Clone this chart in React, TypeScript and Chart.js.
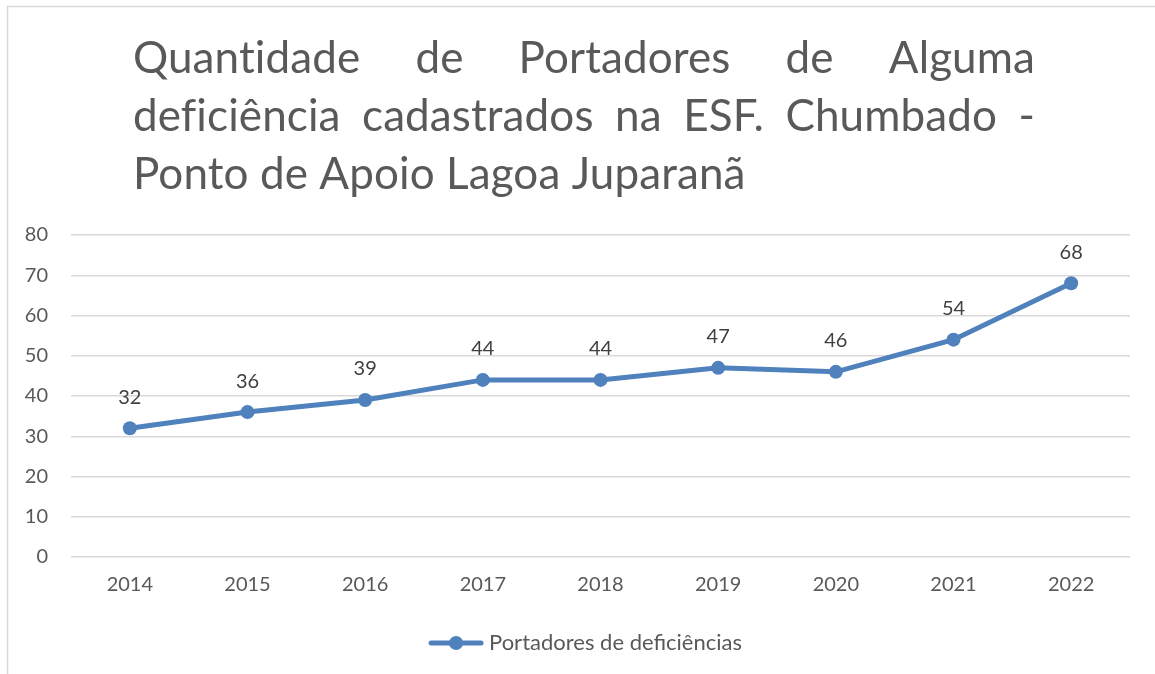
import React, { useEffect, useRef } from "react";
import { Chart, registerables } from "chart.js";

Chart.register(...registerables);

const categories = ["2014", "2015", "2016", "2017", "2018", "2019", "2020", "2021", "2022"];
const portadores = [32, 36, 39, 44, 44, 47, 46, 54, 68];
const seriesName = "Portadores de deficiências";
const titleLines = [
  "Quantidade de Portadores de Alguma",
  "deficiência cadastrados na ESF. Chumbado -",
  "Ponto de Apoio Lagoa Juparanã",
];

const BLUE = "#4F81BD";
const FONT = "Lato, 'Open Sans', sans-serif";

const framePlugin = {
  id: "frame",
  beforeDraw(chart: any) {
    const ctx = chart.ctx;
    ctx.save();
    ctx.fillStyle = "#ffffff";
    ctx.fillRect(0, 0, chart.width, chart.height);
    ctx.strokeStyle = "#d9d9d9";
    ctx.lineWidth = 1.5;
    ctx.strokeRect(7.5, 6.5, chart.width + 20, chart.height + 20);
    ctx.restore();
  },
};

const legendShiftPlugin = {
  id: "legendShift",
  afterLayout(chart: any) {
    const lg = chart.legend;
    if (lg) {
      lg.left += 23;
      lg.right += 23;
    }
  },
};

const titlePlugin = {
  id: "justTitle",
  afterDraw(chart: any) {
    const ctx = chart.ctx;
    const left = 133;
    const right = 1035;
    const baselines = [73, 131, 189];
    ctx.save();
    ctx.font = `44px ${FONT}`;
    try {
      (ctx as any).letterSpacing = "0.1px";
    } catch (e) {}
    ctx.fillStyle = "#595959";
    ctx.textBaseline = "alphabetic";
    ctx.textAlign = "left";
    titleLines.forEach((line, i) => {
      const words = line.split(" ");
      if (i === titleLines.length - 1) {
        ctx.fillText(line, left, baselines[i]);
        return;
      }
      const widths = words.map((w) => ctx.measureText(w).width);
      const total = widths.reduce((a, b) => a + b, 0);
      const gap = (right - left - total) / (words.length - 1);
      let x = left;
      words.forEach((w, j) => {
        ctx.fillText(w, x, baselines[i]);
        x += widths[j] + gap;
      });
    });
    ctx.restore();
  },
};

const labelPlugin = {
  id: "valueLabels",
  afterDatasetsDraw(chart: any) {
    const ctx = chart.ctx;
    const meta = chart.getDatasetMeta(0);
    const data = chart.data.datasets[0].data;
    ctx.save();
    ctx.font = `20px ${FONT}`;
    ctx.fillStyle = "#404040";
    ctx.textAlign = "center";
    ctx.textBaseline = "middle";
    meta.data.forEach((pt: any, i: number) => {
      ctx.fillText(String(data[i]), pt.x, pt.y - 31);
    });
    ctx.restore();
  },
};

function makeLegendIcon(): HTMLCanvasElement {
  const c = document.createElement("canvas");
  c.width = 56;
  c.height = 16;
  const g = c.getContext("2d")!;
  g.strokeStyle = BLUE;
  g.lineWidth = 5;
  g.lineCap = "round";
  g.beginPath();
  g.moveTo(3, 8);
  g.lineTo(53, 8);
  g.stroke();
  g.fillStyle = BLUE;
  g.beginPath();
  g.arc(28, 8, 7, 0, Math.PI * 2);
  g.fill();
  return c;
}

export default function App() {
  const ref = useRef<HTMLCanvasElement>(null);

  useEffect(() => {
    document.body.style.margin = "0";
    const icon = makeLegendIcon();
    const chart = new Chart(ref.current!, {
      type: "line",
      data: {
        labels: categories,
        datasets: [
          {
            label: seriesName,
            data: portadores,
            borderColor: BLUE,
            backgroundColor: BLUE,
            borderWidth: 5,
            pointRadius: 7,
            pointBackgroundColor: BLUE,
            pointBorderColor: BLUE,
            pointBorderWidth: 0,
            tension: 0,
            fill: false,
          },
        ],
      },
      options: {
        responsive: false,
        animation: false,
        layout: { padding: { top: 235, right: 25, bottom: 10, left: 0 } },
        plugins: {
          title: { display: false },
          tooltip: { enabled: false },
          legend: {
            display: true,
            position: "bottom",
            labels: {
              usePointStyle: true,
              pointStyleWidth: 44,
              font: { family: FONT, size: 22 },
              color: "#595959",
              padding: 10,
              generateLabels: () => [
                {
                  text: seriesName,
                  pointStyle: icon as any,
                  fillStyle: BLUE,
                  strokeStyle: BLUE,
                  lineWidth: 0,
                  hidden: false,
                  datasetIndex: 0,
                  fontColor: "#595959",
                } as any,
              ],
            },
          },
        },
        scales: {
          x: {
            offset: true,
            grid: { display: false, drawTicks: false },
            border: { display: false },
            ticks: {
              font: { family: FONT, size: 20 },
              color: "#595959",
              padding: 16,
              maxRotation: 0,
            },
            afterFit: (s: any) => {
              s.height = 65;
            },
          },
          y: {
            min: 0,
            max: 80,
            ticks: {
              stepSize: 10,
              font: { family: FONT, size: 20 },
              color: "#595959",
              padding: 23,
            },
            grid: { color: "#d9d9d9", lineWidth: 1.5, drawTicks: false },
            border: { display: false },
            afterFit: (s: any) => {
              s.width = 71;
            },
          },
        },
      },
      plugins: [framePlugin, legendShiftPlugin, titlePlugin, labelPlugin],
    });
    return () => chart.destroy();
  }, []);

  return (
    <div style={{ width: 1155, height: 674 }}>
      <canvas ref={ref} width={1155} height={674} />
    </div>
  );
}
